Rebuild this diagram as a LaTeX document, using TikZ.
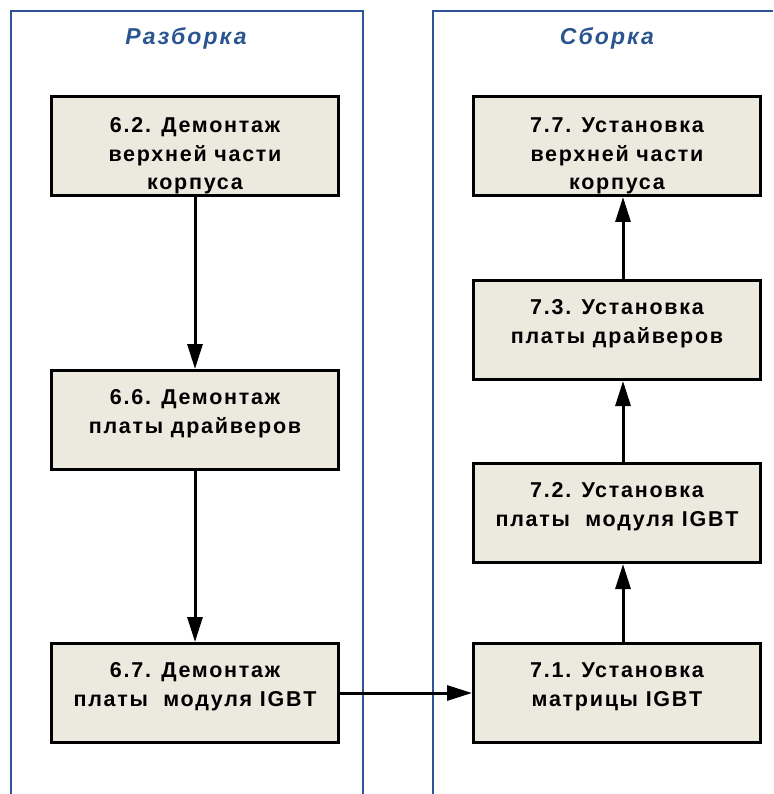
\documentclass[tikz,border=0pt]{standalone}
\usepackage{fontspec}
\setmainfont{Liberation Sans}
\newfontfamily\boxfont[LetterSpace=8]{Liberation Sans}
\newfontfamily\titlefont[LetterSpace=9]{Liberation Sans}
\usetikzlibrary{arrows.meta,positioning}
\definecolor{laneblue}{HTML}{2E5495}
\definecolor{titleblue}{HTML}{2B5590}
\definecolor{boxfill}{HTML}{ECEADF}
\tikzset{
  stepbox/.style  ={draw=black,line width=3pt,fill=boxfill,minimum width=287pt,
                    minimum height=99pt,inner sep=0pt,align=center,
                    font=\boxfont\bfseries\fontsize{21.5}{28.5}\selectfont},
  lines3/.style   ={text height=93pt,text depth=5pt},
  lines2/.style   ={text height=51pt,text depth=25pt},
  lane/.style     ={draw=laneblue,line width=2pt},
  lanetitle/.style={font=\titlefont\bfseries\itshape\fontsize{23}{28}\selectfont,text=titleblue},
  flow/.style     ={-{Triangle[length=25pt,width=15pt]},line width=3pt,draw=black}
}
\begin{document}
\begin{tikzpicture}[x=1pt,y=-1pt]
    \useasboundingbox (0,0) rectangle (773,794);
    % swimlanes
    \draw[lane] (11,794) |- (363,11) -- (363,794);
    \draw[lane] (433,794) |- (773,11);
    \node[lanetitle] (tdis) at (186,38) {Разборка};
    \node[lanetitle] (tasm) at (607,38) {Сборка};
    % disassembly
    \node[stepbox,lines3] (dis62) at (195,146) {6.2. Демонтаж\\верхней части\\корпуса};
    \node[stepbox,lines2,below=172pt of dis62] (dis66) {6.6. Демонтаж\\платы драйверов};
    \node[stepbox,lines2,below=171pt of dis66] (dis67) {6.7. Демонтаж\\платы\ \ модуля IGBT};
    \draw[flow] (dis62)--(dis66); \draw[flow] (dis66)--(dis67);
    % assembly
    \node[stepbox,lines3] (asm77) at (617,146) {7.7. Установка\\верхней части\\корпуса};
    \node[stepbox,lines2,below=82pt of asm77] (asm73) {7.3. Установка\\платы драйверов};
    \node[stepbox,lines2,below=81pt of asm73] (asm72) {7.2. Установка\\платы\ \ модуля IGBT};
    \node[stepbox,lines2,below=78pt of asm72] (asm71) {7.1. Установка\\матрицы IGBT};
    \draw[flow] (dis67)--(asm71);
    \draw[flow] ([xshift=6pt]asm71.north)--([xshift=6pt]asm72.south);
    \draw[flow] ([xshift=6pt]asm72.north)--([xshift=6pt]asm73.south);
    \draw[flow] ([xshift=6pt]asm73.north)--([xshift=6pt]asm77.south);
\end{tikzpicture}
\end{document}
